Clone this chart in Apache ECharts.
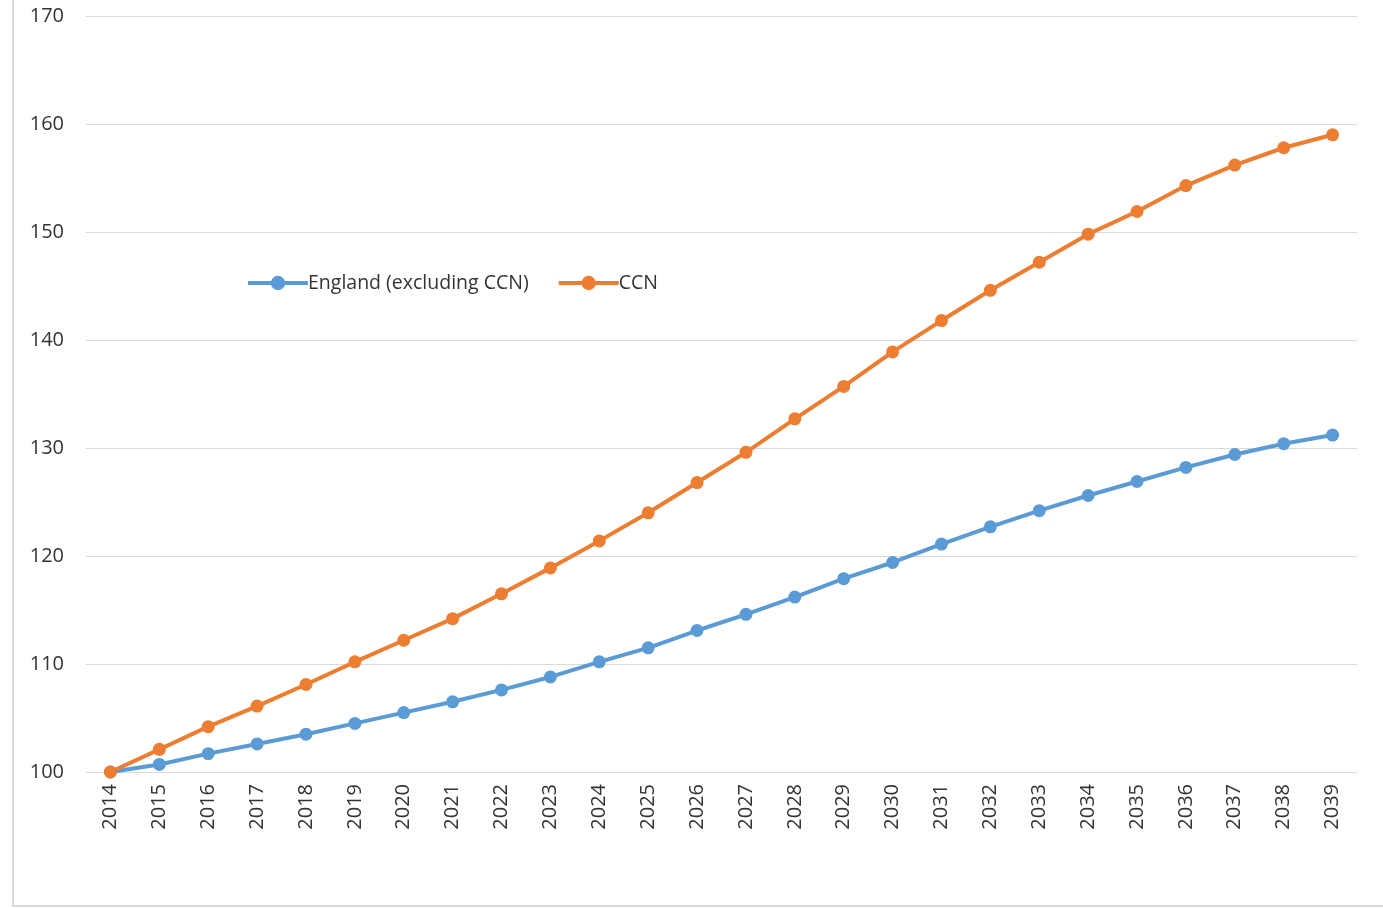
<!DOCTYPE html>
<html>
<head>
<meta charset="utf-8">
<script src="https://cdn.jsdelivr.net/npm/echarts@6/dist/echarts.min.js"></script>
<style>
html,body{margin:0;padding:0;background:#fff;}
#chart{width:1383px;height:908px;}
</style>
</head>
<body>
<div id="chart"></div>
<script>
const years = ['2014','2015','2016','2017','2018','2019','2020','2021','2022','2023','2024','2025','2026','2027','2028','2029','2030','2031','2032','2033','2034','2035','2036','2037','2038','2039'];
const englandExclCCN = [100,100.7,101.7,102.6,103.5,104.5,105.5,106.5,107.6,108.8,110.2,111.5,113.1,114.6,116.2,117.9,119.4,121.1,122.7,124.2,125.6,126.9,128.2,129.4,130.4,131.2];
const ccn = [100,102.1,104.2,106.1,108.1,110.2,112.2,114.2,116.5,118.9,121.4,124.0,126.8,129.6,132.7,135.7,138.9,141.8,144.6,147.2,149.8,151.9,154.3,156.2,157.8,159.0];
const seriesNames = ['England (excluding CCN)','CCN'];

const chart = echarts.init(document.getElementById('chart'));
const font = 'Open Sans, Noto Sans, sans-serif';
function mk(name, data, color){
  return {
    name: name, type: 'line', data: data,
    symbol: 'circle', symbolSize: 13,
    lineStyle: {width: 4, color: color},
    itemStyle: {color: color},
    animation: false
  };
}
chart.setOption({
  backgroundColor: '#fff',
  animation: false,
  graphic: [
    {type:'line', shape:{x1:13,y1:0,x2:13,y2:907}, style:{stroke:'#d9d9d9', lineWidth:2}},
    {type:'line', shape:{x1:13,y1:906,x2:1383,y2:906}, style:{stroke:'#d9d9d9', lineWidth:2}}
  ],
  legend: {
    left: 241, top: 268, itemWidth: 60, itemHeight: 18, itemGap: 28,
    lineStyle: {width: 4},
    textStyle: {fontSize: 19.5, color: '#333', fontFamily: font, padding: [0,0,0,-5]},
    data: seriesNames
  },
  grid: {left: 86, right: 26, top: 16, bottom: 136, containLabel: false},
  xAxis: {
    type: 'category', data: years, boundaryGap: true,
    axisLine: {show: false}, axisTick: {show: false},
    axisLabel: {rotate: 90, fontSize: 20, color: '#333', fontFamily: font, margin: 12, interval: 0}
  },
  yAxis: {
    type: 'value', min: 100, max: 170, interval: 10,
    axisLine: {show: false}, axisTick: {show: false},
    axisLabel: {fontSize: 20, color: '#333', fontFamily: font, margin: 22},
    splitLine: {lineStyle: {color: '#d9d9d9', width: 1}}
  },
  series: [
    mk(seriesNames[0], englandExclCCN, '#5B9BD5'),
    mk(seriesNames[1], ccn, '#ED7D31')
  ]
});
</script>
</body>
</html>
